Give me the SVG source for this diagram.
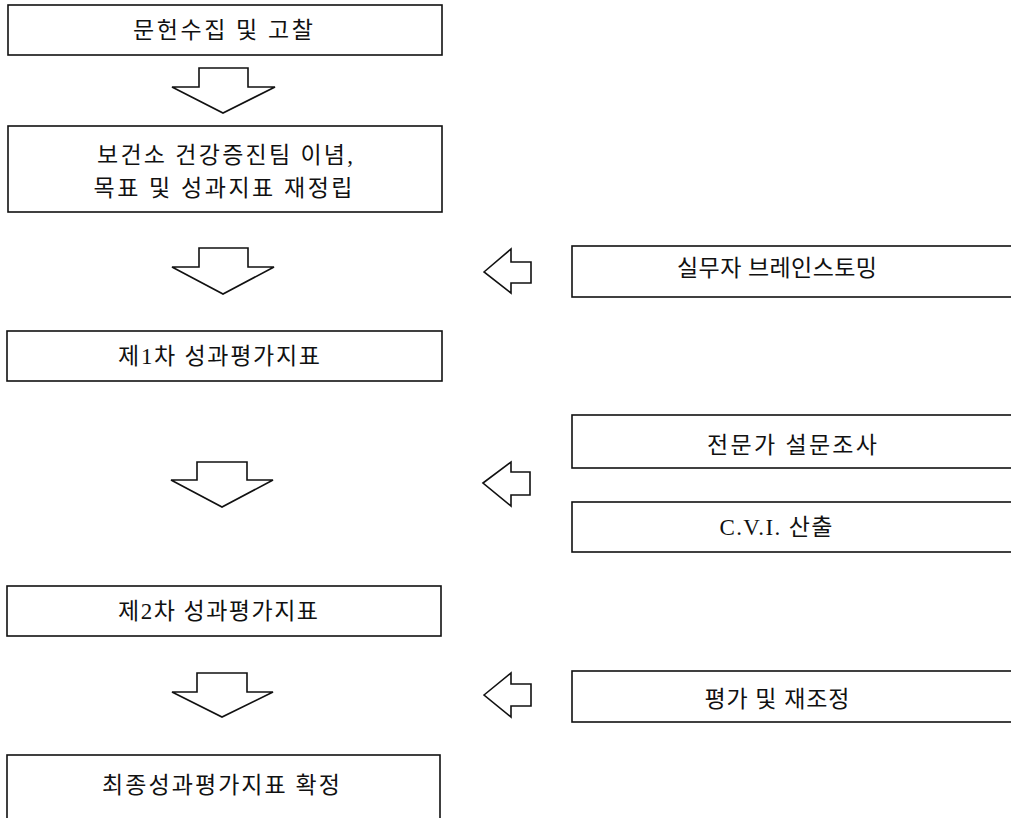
<svg xmlns="http://www.w3.org/2000/svg" width="1011" height="818" viewBox="0 0 1011 818">
<style>
.box{fill:#fff;stroke:#111;stroke-width:1.6}
.arr{fill:#fff;stroke:#111;stroke-width:1.6;stroke-linejoin:miter}
.t{font-family:"Liberation Serif","Noto Sans CJK KR",serif;font-size:23px;fill:#111;text-anchor:middle}
</style>
<rect width="1011" height="818" fill="#fff"/>
<g id="n1"><rect class="box" x="8" y="5" width="434" height="50"/><text class="t" x="223" y="38" textLength="180" lengthAdjust="spacing">문헌수집 및 고찰</text></g>
<g id="n2"><rect class="box" x="8" y="126" width="434" height="86"/><text class="t" x="225" y="163" textLength="256" lengthAdjust="spacing">보건소 건강증진팀 이념,</text><text class="t" x="223" y="196" textLength="259" lengthAdjust="spacing">목표 및 성과지표 재정립</text></g>
<g id="n3"><rect class="box" x="7" y="331" width="435" height="50"/><text class="t" x="219" y="364" textLength="202" lengthAdjust="spacing">제1차 성과평가지표</text></g>
<g id="n4"><rect class="box" x="7" y="586" width="434" height="50"/><text class="t" x="218" y="619" textLength="200" lengthAdjust="spacing">제2차 성과평가지표</text></g>
<g id="n5"><rect class="box" x="7" y="755" width="433" height="80"/><text class="t" x="221" y="793" textLength="238" lengthAdjust="spacing">최종성과평가지표 확정</text></g>
<g id="r1"><rect class="box" x="572" y="246" width="460" height="51"/><text class="t" x="777" y="276" textLength="200" lengthAdjust="spacing">실무자 브레인스토밍</text></g>
<g id="r2"><rect class="box" x="572" y="415" width="460" height="53"/><text class="t" x="792" y="453" textLength="170" lengthAdjust="spacing">전문가 설문조사</text></g>
<g id="r3"><rect class="box" x="572" y="502" width="460" height="50"/><text class="t" x="776" y="535" textLength="113" lengthAdjust="spacing">C.V.I. 산출</text></g>
<g id="r4"><rect class="box" x="572" y="671" width="460" height="51"/><text class="t" x="777" y="707" textLength="145" lengthAdjust="spacing">평가 및 재조정</text></g>
<g id="connectors">
<polygon class="arr" points="199,68 248,68 248,87 275,87 223,113 172,87 199,87"/>
<polygon class="arr" points="199,248 248,248 248,267 274,267 223,294 172,267 199,267"/>
<polygon class="arr" points="197,462 247,462 247,480 273,480 222,507 171,480 197,480"/>
<polygon class="arr" points="197,673 247,673 247,692 273,692 222,717 172,692 197,692"/>
<polygon class="arr" points="484,272 511,249 511,262 531,262 531,283 511,283 511,293"/>
<polygon class="arr" points="483,483 511,462 511,472 530,472 530,495 511,495 511,506"/>
<polygon class="arr" points="484,695 511,673 511,684 531,684 531,706 511,706 511,717"/>
</g>
</svg>
